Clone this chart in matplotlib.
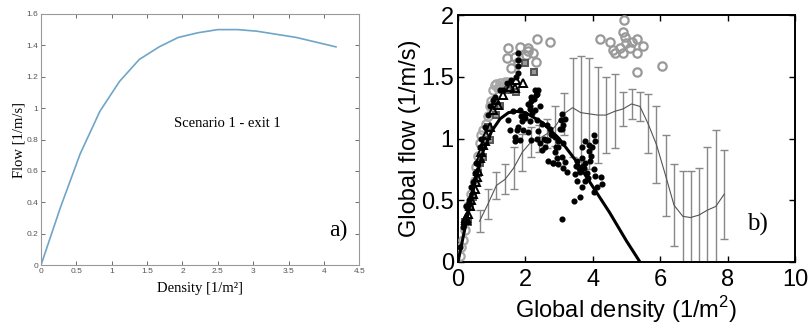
import matplotlib
matplotlib.use('Agg')
import matplotlib.pyplot as plt
from matplotlib.ticker import FormatStrFormatter

# ---- panel a) : simulated flow vs density ----
dens_a = [0, 0.277, 0.555, 0.833, 1.11, 1.39, 1.67, 1.94, 2.22, 2.5, 2.78, 3.05, 3.33, 3.61, 3.89, 4.17]
flow_a = [0, 0.37, 0.71, 0.98, 1.17, 1.31, 1.39, 1.45, 1.48, 1.50, 1.50, 1.49, 1.47, 1.45, 1.42, 1.39]

# ---- panel b) : empirical data ----
# fundamental diagram (thick black line)
fd_x = [0, 0.25, 0.5, 0.75, 1.0, 1.25, 1.5, 1.75, 2.0, 2.5, 3.0, 3.5, 4.0, 4.5, 5.0, 5.4]
fd_y = [0, 0.33, 0.64, 0.90, 1.06, 1.16, 1.21, 1.22, 1.21, 1.13, 1.00, 0.82, 0.61, 0.40, 0.17, 0]

# mean with error bars (thin gray line)
eb_x = [0.64, 0.89, 1.14, 1.40, 1.65, 1.91, 2.16, 2.41, 2.65, 2.89, 3.14, 3.40, 3.64, 3.89, 4.14,
        4.39, 4.65, 4.90, 5.15, 5.40, 5.64, 5.89, 6.16, 6.41, 6.67, 6.90, 7.15, 7.40, 7.65, 7.90]
eb_y = [0.33, 0.47, 0.62, 0.67, 0.76, 0.89, 0.97, 1.00, 1.04, 1.10, 1.20, 1.25, 1.21, 1.20, 1.19,
        1.19, 1.22, 1.24, 1.28, 1.26, 1.12, 0.95, 0.70, 0.46, 0.37, 0.36, 0.38, 0.42, 0.45, 0.55]
eb_err = [0.09, 0.12, 0.11, 0.12, 0.17, 0.15, 0.12, 0.11, 0.12, 0.16, 0.17, 0.40, 0.46, 0.45, 0.39,
          0.31, 0.30, 0.14, 0.12, 0.12, 0.24, 0.31, 0.33, 0.33, 0.37, 0.38, 0.38, 0.51, 0.62, 0.36]

# gray open circles
circ_x = [1.49, 1.83, 2.08, 2.33, 2.72, 1.44, 1.68, 2.01, 2.23, 2.31, 1.58, 1.78, 2.08,
          4.92, 4.90, 4.95, 5.00, 4.21, 4.52, 4.60, 4.80, 4.67, 4.90, 5.30, 5.50, 5.30, 5.32,
          6.04, 5.15, 5.10]
circ_y = [1.73, 1.74, 1.73, 1.81, 1.78, 1.65, 1.66, 1.68, 1.69, 1.62, 1.57, 1.62, 1.71,
          1.96, 1.86, 1.82, 1.77, 1.81, 1.78, 1.72, 1.73, 1.69, 1.69, 1.81, 1.75, 1.69, 1.54,
          1.59, 1.78, 1.73]
# lighter gray circles along the free-flow branch
circ2_x = [1.09, 1.24, 1.39, 1.04, 1.19, 1.49, 0.94, 0.89, 0.74, 0.69, 0.64, 0.59, 0.54, 0.50,
           0.40, 0.30, 0.20, 0.10, 0.05, 0.15, 1.14, 1.30, 0.99, 0.82]
circ2_y = [1.43, 1.45, 1.46, 1.39, 1.41, 1.46, 1.26, 1.18, 1.07, 1.03, 0.96, 0.86, 0.77, 0.66,
           0.55, 0.45, 0.26, 0.12, 0.05, 0.18, 1.44, 1.42, 1.30, 1.12]

# dark gray open squares
sq_x = [0.20, 0.30, 1.14, 1.49, 1.71, 1.98, 2.25, 0.94, 0.59, 0.45, 0.74, 0.64, 0.35, 0.89, 1.24]
sq_y = [0.32, 0.32, 1.19, 1.39, 1.38, 1.61, 1.54, 0.99, 0.72, 0.53, 0.85, 0.80, 0.45, 1.09, 1.26]

# black open triangles
tri_x = [1.93, 1.68, 1.19, 1.04, 0.84, 0.74, 0.64, 0.56, 0.50, 0.40, 0.30, 0.23, 1.53, 1.34,
         0.94, 0.59, 0.45, 0.35, 0.69, 0.79, 0.52, 0.25, 1.14, 1.73]
tri_y = [1.45, 1.41, 1.27, 1.23, 1.03, 0.95, 0.84, 0.69, 0.59, 0.50, 0.39, 0.34, 1.42, 1.35,
         1.09, 0.74, 0.55, 0.45, 0.89, 0.98, 0.65, 0.36, 1.31, 1.47]

# black filled dots
dot_x = [1.79, 1.79, 1.79, 1.78, 2.38, 2.32, 2.26, 2.18, 2.09, 2.14, 2.29, 2.43, 1.99, 1.89,
         1.74, 1.94, 2.14, 1.69, 1.84, 2.34, 2.48, 2.63, 2.73, 2.78, 2.68, 2.38, 2.33, 2.43,
         2.48, 2.58, 2.88, 2.98, 3.08, 3.18, 3.13, 2.98, 2.88, 2.83, 2.98, 3.13, 3.18, 3.08,
         2.93, 3.23, 3.43, 3.63, 3.68, 3.78, 3.53, 3.48, 3.63, 3.73, 3.78, 3.93, 4.03, 4.08,
         4.23, 4.28, 4.13, 4.03, 3.88, 3.98, 4.08, 4.03, 3.88, 3.68, 3.78, 3.58, 3.83, 3.08,
         3.68, 3.53, 1.49, 1.63, 1.83, 1.78, 1.53, 1.68, 1.88, 2.15, 2.18, 2.28, 2.33, 1.98,
         2.08, 2.18, 2.62, 2.77, 3.02, 2.92, 2.67, 2.82, 3.12, 3.05, 3.10, 1.24, 1.04, 0.89,
         0.79, 0.64, 0.54, 0.40, 0.25, 0.15, 0.05, 1.09, 1.34, 1.58, 1.71, 1.44, 0.50, 0.33,
         0.94, 0.69, 0.45, 3.61, 3.70, 3.95, 3.50, 2.55, 2.20, 3.85]
dot_y = [1.69, 1.64, 1.59, 1.53, 1.39, 1.35, 1.32, 1.30, 1.28, 1.24, 1.23, 1.26, 1.17, 1.14,
         1.07, 1.07, 1.14, 0.98, 0.99, 1.15, 1.12, 1.11, 1.08, 1.03, 0.99, 1.06, 1.00, 0.96,
         0.91, 0.93, 1.01, 0.98, 1.08, 1.16, 1.11, 0.93, 0.89, 0.80, 0.79, 0.76, 0.81, 0.85,
         0.84, 0.73, 0.49, 0.53, 0.61, 0.66, 0.66, 0.71, 0.73, 0.76, 0.80, 0.82, 0.75, 0.70,
         0.69, 0.63, 0.61, 0.57, 0.90, 0.93, 0.98, 1.03, 0.95, 0.93, 0.98, 0.76, 0.72, 0.35,
         0.84, 0.82, 1.15, 1.22, 1.23, 1.09, 1.07, 1.01, 1.18, 1.26, 1.34, 1.39, 1.36, 1.20,
         1.05, 0.99, 0.99, 1.04, 1.08, 0.93, 0.82, 0.80, 0.96, 1.15, 1.20, 1.39, 1.31, 1.19,
         1.09, 0.93, 0.80, 0.61, 0.45, 0.28, 0.12, 1.34, 1.39, 1.47, 1.50, 1.45, 0.72, 0.50,
         1.26, 1.00, 0.65, 0.74, 0.78, 0.86, 0.78, 1.00, 1.21, 0.68]

plt.rcParams['font.family'] = 'Liberation Sans'
plt.rcParams['mathtext.fontset'] = 'custom'
plt.rcParams['mathtext.rm'] = 'Liberation Sans'
fig = plt.figure(figsize=(8.1, 3.31), dpi=100)

# ---------------- panel a ----------------
ax1 = fig.add_axes([0.0506, 0.199, 0.393, 0.759])
ax1.plot(dens_a, flow_a, color='#6fa5c8', lw=1.2)
ax1.set_xlim(0, 4.5)
ax1.set_ylim(0, 1.6)
ax1.set_xticks([0, 0.5, 1, 1.5, 2, 2.5, 3, 3.5, 4, 4.5])
ax1.set_yticks([0, 0.2, 0.4, 0.6, 0.8, 1, 1.2, 1.4, 1.6])
ax1.xaxis.set_major_formatter(FormatStrFormatter('%g'))
ax1.yaxis.set_major_formatter(FormatStrFormatter('%g'))
ax1.tick_params(direction='in', top=True, right=True, length=3, width=0.6,
                labelsize=6, colors='#555555', pad=2)
for s in ax1.spines.values():
    s.set_color('#999999')
    s.set_linewidth(0.8)
ax1.set_xlabel('Density [1/m²]', family='Liberation Serif', fontsize=10.5, labelpad=5)
ax1.set_ylabel('Flow [1/m/s]', family='Liberation Serif', fontsize=10.5, labelpad=1)
ax1.text(2.63, 0.9, 'Scenario 1 - exit 1', family='Liberation Serif', fontsize=10.5,
         ha='center', va='center')
ax1.text(4.2, 0.22, 'a)', family='Liberation Serif', fontsize=17, ha='center', va='center')

# ---------------- panel b ----------------
ax2 = fig.add_axes([0.5654, 0.2085, 0.4161, 0.746])
ax2.errorbar(eb_x, eb_y, yerr=eb_err, color='#555555', lw=0.8, ecolor='#888888',
             elinewidth=1.0, capsize=3, capthick=1.0, zorder=2)
ax2.plot(circ_x, circ_y, 'o', ms=6, mfc='none', mec='#999999', mew=1.6, zorder=3)
ax2.plot(circ2_x, circ2_y, 'o', ms=6, mfc='none', mec='#a8a8a8', mew=1.6, zorder=3)
ax2.plot(sq_x, sq_y, 's', ms=5, mfc='#999999', mec='#555555', mew=1.4, zorder=4)
ax2.plot(dot_x, dot_y, 'o', ms=3.4, color='black', zorder=5)
ax2.plot(tri_x, tri_y, '^', ms=5.5, mfc='none', mec='black', mew=1.4, zorder=5)
ax2.plot(fd_x, fd_y, color='black', lw=2.2, zorder=6)
ax2.set_xlim(0, 10)
ax2.set_ylim(0, 2)
ax2.set_xticks([0, 2, 4, 6, 8, 10])
ax2.set_yticks([0, 0.5, 1, 1.5, 2])
ax2.yaxis.set_major_formatter(FormatStrFormatter('%g'))
ax2.tick_params(direction='in', top=True, right=True, length=4, width=1, labelsize=17)
ax2.tick_params(axis='x', pad=5)
ax2.tick_params(axis='y', pad=3)
for s in ax2.spines.values():
    s.set_linewidth(1.4)
ax2.set_xlabel('Global density (1/m$^2$)', fontsize=17, labelpad=2)
ax2.set_ylabel('Global flow (1/m/s)', fontsize=17, labelpad=0)
ax2.text(8.9, 0.3, 'b)', family='Liberation Serif', fontsize=18, ha='center', va='center')

fig.savefig('out.png', dpi=100)
